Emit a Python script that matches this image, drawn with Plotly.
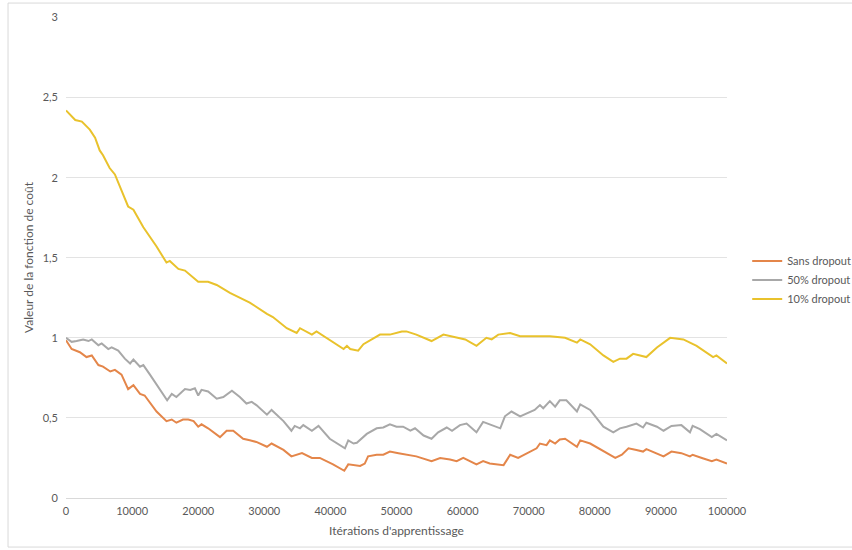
import plotly.graph_objects as go

# Iterations (x) and cost values (y) per series
iter_10 = [0, 1400, 2400, 3600, 4400, 5100, 5600, 6600, 7400, 8400, 9400, 10200, 11700, 13700,
           15200, 15700, 17000, 18000, 20000, 21500, 22800, 24800, 27800, 30400, 31300, 33400,
           34900, 35400, 37200, 37900, 39400, 42000, 42500, 43000, 44200, 45000, 47500, 49000,
           50800, 51500, 53000, 55300, 57100, 59100, 60400, 62100, 63600, 64400, 65400, 67200,
           68700, 70700, 73200, 75500, 77300, 77800, 79300, 81300, 82800, 83800, 84800, 85800,
           86800, 87800, 89400, 91400, 93400, 95400, 97900, 98400, 100000]
cost_10 = [2.42, 2.36, 2.35, 2.30, 2.25, 2.17, 2.14, 2.06, 2.02, 1.92, 1.82, 1.80, 1.69, 1.57,
           1.47, 1.48, 1.43, 1.42, 1.35, 1.35, 1.33, 1.28, 1.22, 1.15, 1.13, 1.06,
           1.03, 1.06, 1.02, 1.04, 1.00, 0.93, 0.95, 0.93, 0.92, 0.96, 1.02, 1.02,
           1.04, 1.04, 1.02, 0.98, 1.02, 1.00, 0.99, 0.95, 1.00, 0.99, 1.02, 1.03,
           1.01, 1.01, 1.01, 1.00, 0.97, 0.99, 0.96, 0.89, 0.85, 0.87, 0.87, 0.90,
           0.89, 0.88, 0.94, 1.00, 0.99, 0.95, 0.88, 0.89, 0.84]

iter_50 = [0, 850, 1600, 2600, 3400, 3900, 4900, 5400, 6400, 6900, 7900, 8900, 9700, 10200,
           11200, 11700, 12700, 14200, 15300, 16000, 16700, 18000, 18800, 19500, 20000, 20500,
           21500, 22800, 23800, 25100, 26300, 27300, 28100, 28800, 30400, 31100, 32900, 34100,
           34600, 35400, 35900, 37200, 38200, 39900, 42200, 42700, 43500, 44000, 45500, 47000,
           48000, 49000, 50000, 51000, 52100, 52800, 54100, 55300, 56300, 57600, 58400, 59600,
           60600, 62100, 63100, 64100, 65700, 66400, 67400, 68700, 69900, 70900, 71700, 72200,
           73200, 74000, 74700, 75700, 77300, 77800, 79300, 81300, 82800, 83800, 84800, 86300,
           87300, 87800, 89400, 90400, 91600, 93100, 94400, 94800, 95900, 97700, 98400, 100000]
cost_50 = [1.00, 0.975, 0.98, 0.99, 0.98, 0.99, 0.954, 0.965, 0.93, 0.94, 0.92, 0.87, 0.84, 0.865,
           0.82, 0.83, 0.77, 0.68, 0.61, 0.65, 0.63, 0.68, 0.675, 0.685, 0.64, 0.675,
           0.665, 0.62, 0.63, 0.67, 0.63, 0.59, 0.60, 0.58, 0.52, 0.55, 0.48, 0.42,
           0.45, 0.435, 0.455, 0.42, 0.45, 0.37, 0.31, 0.36, 0.34, 0.345, 0.40, 0.435,
           0.44, 0.46, 0.445, 0.445, 0.42, 0.435, 0.39, 0.37, 0.41, 0.44, 0.42, 0.455,
           0.465, 0.41, 0.475, 0.46, 0.435, 0.51, 0.54, 0.51, 0.53, 0.55, 0.58, 0.56,
           0.605, 0.57, 0.61, 0.61, 0.54, 0.585, 0.55, 0.445, 0.41, 0.435, 0.445, 0.465,
           0.44, 0.47, 0.445, 0.42, 0.45, 0.455, 0.41, 0.45, 0.43, 0.38, 0.40, 0.36]

iter_0 = [0, 850, 2100, 3100, 3900, 4900, 5600, 6700, 7400, 8400, 9400, 10200, 11200, 11900,
          13700, 15200, 16000, 16700, 17700, 18500, 19300, 20000, 20500, 21500, 23300, 24300,
          25300, 26800, 27800, 28800, 30400, 31100, 32900, 34100, 35700, 37200, 38400, 40400,
          42100, 42700, 44500, 45200, 45700, 47000, 48000, 49000, 50300, 51500, 53000, 55300,
          56600, 58100, 59100, 60100, 62100, 63100, 64100, 66200, 67200, 68400, 69700, 71200,
          71700, 72700, 73200, 74000, 74700, 75500, 77300, 77800, 79300, 81300, 83100, 84100,
          85100, 86300, 87300, 87800, 90400, 91600, 93100, 94400, 94800, 96200, 97700, 98400,
          100000]
cost_0 = [0.985, 0.93, 0.91, 0.88, 0.89, 0.83, 0.82, 0.79, 0.80, 0.77, 0.68, 0.705, 0.65, 0.64,
          0.54, 0.48, 0.49, 0.47, 0.49, 0.49, 0.48, 0.445, 0.46, 0.435, 0.38, 0.42,
          0.42, 0.37, 0.36, 0.35, 0.32, 0.34, 0.30, 0.26, 0.28, 0.25, 0.25, 0.21,
          0.17, 0.21, 0.20, 0.215, 0.26, 0.27, 0.27, 0.29, 0.28, 0.27, 0.26, 0.23,
          0.25, 0.24, 0.23, 0.25, 0.21, 0.23, 0.215, 0.205, 0.27, 0.25, 0.28, 0.31,
          0.34, 0.33, 0.36, 0.34, 0.365, 0.37, 0.32, 0.36, 0.34, 0.29, 0.25, 0.27,
          0.31, 0.30, 0.29, 0.305, 0.26, 0.29, 0.28, 0.26, 0.27, 0.25, 0.23, 0.24,
          0.215]

x_ticks = [0, 10000, 20000, 30000, 40000, 50000, 60000, 70000, 80000, 90000, 100000]
y_ticks = [0, 0.5, 1, 1.5, 2, 2.5, 3]
y_tick_labels = ["0", "0,5", "1", "1,5", "2", "2,5", "3"]

FONT = "Lato"
TXT = "#595959"

fig = go.Figure()
fig.add_trace(go.Scatter(x=iter_0, y=cost_0, mode="lines", name="Sans dropout",
                         line=dict(color="#E4864A", width=2)))
fig.add_trace(go.Scatter(x=iter_50, y=cost_50, mode="lines", name="50% dropout",
                         line=dict(color="#A8A8A8", width=2)))
fig.add_trace(go.Scatter(x=iter_10, y=cost_10, mode="lines", name="10% dropout",
                         line=dict(color="#E9C22C", width=2)))

fig.update_layout(
    width=852, height=550,
    margin=dict(l=66, r=125, t=17, b=52),
    paper_bgcolor="white", plot_bgcolor="white",
    font=dict(family=FONT, size=12, color=TXT),
    showlegend=True,
    legend=dict(xref="container", yref="container", x=0.877, y=0.552,
                xanchor="left", yanchor="top",
                font=dict(family=FONT, size=11, color=TXT),
                bgcolor="rgba(0,0,0,0)", itemwidth=30, tracegroupgap=0),
    xaxis=dict(range=[0, 100000], tickvals=x_ticks, ticktext=[str(v) for v in x_ticks],
               automargin=False,
               showgrid=False, zeroline=False, showline=True, linecolor="#D9D9D9", linewidth=1,
               ticks="", ticklabelstandoff=3, tickfont=dict(family=FONT, size=11, color=TXT),
               title=dict(text="Itérations d'apprentissage", standoff=10,
                          font=dict(family=FONT, size=12, color=TXT))),
    yaxis=dict(range=[0, 3.003], tickvals=y_ticks, ticktext=y_tick_labels,
               automargin=False,
               showgrid=True, gridcolor="#E3E3E3", gridwidth=1, zeroline=False,
               showline=False, ticks="", ticklabelstandoff=7,
               tickfont=dict(family=FONT, size=11, color=TXT),
               title=dict(text="Valeur de la fonction de coût", standoff=6,
                          font=dict(family=FONT, size=12, color=TXT))),
)

# outer chart border
fig.add_shape(type="rect", xref="paper", yref="paper",
              x0=-0.0877, x1=1.35, y0=-0.102, y1=1.029,
              line=dict(color="#D9D9D9", width=1), fillcolor="rgba(0,0,0,0)", layer="below")

fig.write_html("out.html", config={"displayModeBar": False},
               post_script="document.body.style.margin='0';document.body.style.overflow='hidden';"
                           "document.documentElement.style.overflow='hidden';")
